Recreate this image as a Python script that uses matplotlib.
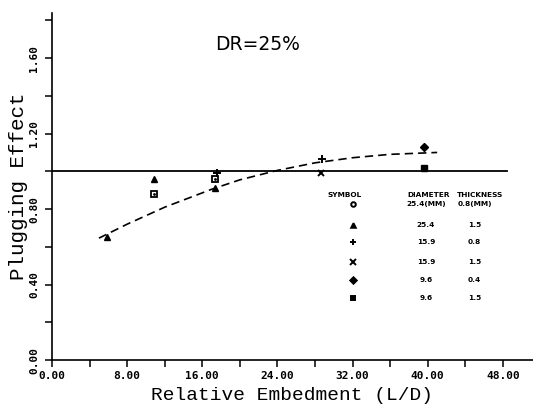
import matplotlib
matplotlib.use("Agg")
from matplotlib import pyplot as plt

# Data
circle_x = [10.9, 17.4]
circle_y = [0.88, 0.96]
tri_x = [5.9, 10.9, 17.3]
tri_y = [0.65, 0.96, 0.91]
plus_x = [17.6, 28.7]
plus_y = [0.99, 1.065]
cross_x = [28.6]
cross_y = [0.99]
diamond_x = [39.6]
diamond_y = [1.13]
square_x = [39.6]
square_y = [1.02]

# fitted trend (dashed)
fit_x = [5.0, 8.0, 12.0, 17.0, 20.0, 24.0, 28.0, 32.0, 36.0, 41.0]
fit_y = [0.646, 0.72, 0.81, 0.905, 0.955, 1.005, 1.045, 1.072, 1.09, 1.10]

ref_x = [0.0, 48.4]
ref_y = [1.0, 1.0]

# legend table
tbl_diam = ["25.4(MM)", "25.4", "15.9", "15.9", "9.6", "9.6"]
tbl_thick = ["0.8(MM)", "1.5", "0.8", "1.5", "0.4", "1.5"]
tbl_mark = ["o", "^", "+", "x", "D", "s"]

mono = "Liberation Mono"
tick_font = {"family": "DejaVu Sans Mono", "size": 8, "weight": "bold"}
tbl_font = {"family": "DejaVu Sans", "size": 5.3, "weight": "heavy"}

fig = plt.figure(figsize=(5.33, 4.12), dpi=100)
ax = fig.add_axes([0.0975, 0.126, 0.9025, 0.843])

ax.plot(ref_x, ref_y, color="black", linewidth=1.3)
ax.plot(fit_x, fit_y, color="black", linestyle=(0, (5, 3)), linewidth=1.2)

mk = dict(color="black", linestyle="none")
ax.plot(circle_x, circle_y, marker="s", markersize=5, markerfacecolor="white",
        markeredgewidth=1.3, **mk)
ax.plot(circle_x, circle_y, marker=".", markersize=2, **mk)
ax.plot(tri_x, tri_y, marker="^", markersize=5, **mk)
ax.plot(plus_x, plus_y, marker="+", markersize=6, markeredgewidth=1.4, **mk)
ax.plot(cross_x, cross_y, marker="x", markersize=5, markeredgewidth=1.4, **mk)
ax.plot(diamond_x, diamond_y, marker="D", markersize=4.5, **mk)
ax.plot(square_x, square_y, marker="s", markersize=5, **mk)

ax.text(21.9, 1.67, "DR=25%", fontsize=13.5, family="DejaVu Sans",
        ha="center", va="center")

# symbol table
row_y = [0.826, 0.715, 0.625, 0.52, 0.424, 0.33]
ax.text(31.2, 0.872, "SYMBOL", ha="center", va="center", fontdict=tbl_font)
ax.text(40.1, 0.872, "DIAMETER", ha="center", va="center", fontdict=tbl_font)
ax.text(45.6, 0.872, "THICKNESS", ha="center", va="center", fontdict=tbl_font)
for yy, d, t, m in zip(row_y, tbl_diam, tbl_thick, tbl_mark):
    ms = 4.5 if m in "+x" else 3.3
    ax.plot([32.0], [yy], marker=m, markersize=ms, markeredgewidth=1.4,
            markerfacecolor="black" if m != "o" else "white", color="black",
            linestyle="none")
    ax.text(39.8, yy, d, ha="center", va="center", fontdict=tbl_font)
    ax.text(45.0, yy, t, ha="center", va="center", fontdict=tbl_font)

ax.set_xlim(0, 51.2)
ax.set_ylim(0, 1.84)
ax.spines["top"].set_visible(False)
ax.spines["right"].set_visible(False)
ax.spines["left"].set_linewidth(1.2)
ax.spines["bottom"].set_linewidth(1.2)

ax.set_xticks([0, 8, 16, 24, 32, 40, 48])
ax.set_xticklabels(["0.00", "8.00", "16.00", "24.00", "32.00", "40.00", "48.00"],
                   fontdict=tick_font)
ax.set_xticks([4, 12, 20, 28, 36, 44], minor=True)
ax.set_yticks([0, 0.4, 0.8, 1.2, 1.6])
ax.set_yticklabels(["0.00", "0.40", "0.80", "1.20", "1.60"], fontdict=tick_font,
                   rotation=90, va="center")
ax.set_yticks([0.2, 0.6, 1.0, 1.4, 1.8], minor=True)
ax.tick_params(axis="x", which="both", direction="out", length=5, width=1.1, pad=3)
ax.tick_params(axis="y", which="both", direction="out", length=5, width=1.1, pad=4)

ax.set_xlabel("Relative Embedment (L/D)", family=mono, fontsize=14, labelpad=4)
ax.set_ylabel("Plugging Effect", family=mono, fontsize=15, labelpad=1)

plt.savefig("out.png", dpi=100)
